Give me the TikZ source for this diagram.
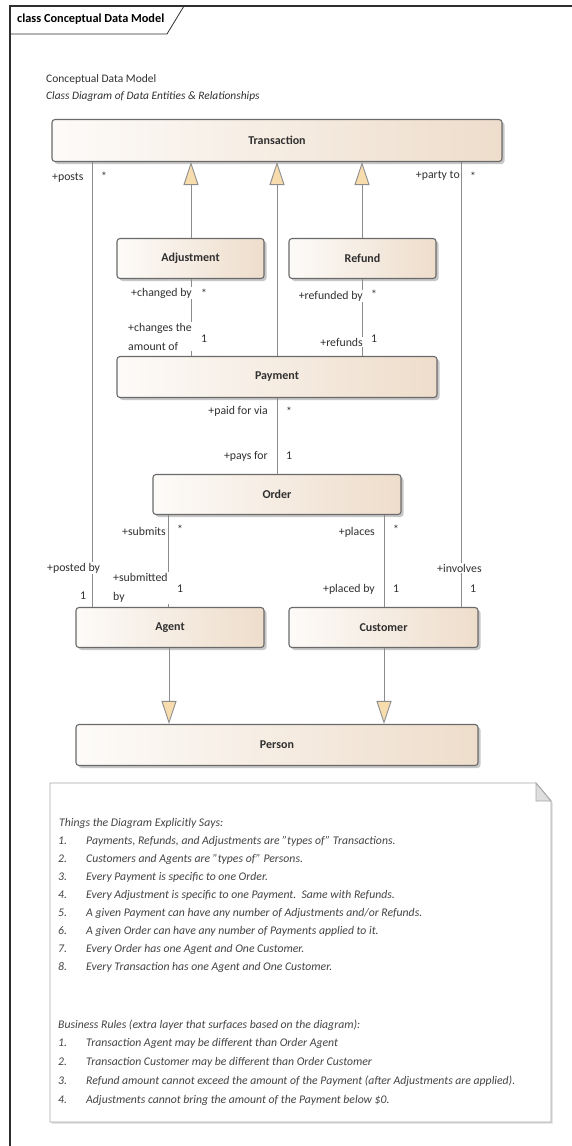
\documentclass[tikz,border=0pt]{standalone}
\usepackage{fontspec}
\setmainfont{Carlito}
\usetikzlibrary{shadows,arrows.meta}

\definecolor{frameline}{HTML}{2E2E2E}
\definecolor{boxline}{HTML}{6A6A6A}
\definecolor{linegray}{HTML}{8C8C8C}
\definecolor{boxleft}{HTML}{FDFBF9}
\definecolor{boxmid}{HTML}{FBF6F1}
\definecolor{boxright}{HTML}{EEDDCB}
\definecolor{tri}{HTML}{F7DCAE}
\definecolor{txt}{HTML}{303030}
\definecolor{notetxt}{HTML}{444444}
\definecolor{noteline}{HTML}{A8A8A8}
\definecolor{notefold}{HTML}{DEDEDE}

% straight double quote, kept out of the TeX ligature mapping
\newcommand{\sq}{\symbol{34}}

\begin{document}
\begin{tikzpicture}[x=1pt,y=-1pt,
  cls/.style={draw=boxline, line width=1.1pt, rounded corners=3pt,
    left color=boxleft, middle color=boxmid, right color=boxright,
    drop shadow={shadow xshift=2.5pt, shadow yshift=-2.5pt, opacity=0.22, fill=black},
    font=\bfseries\fontsize{12}{14}\selectfont, text=txt,
    minimum height=40pt, inner sep=0pt},
  assoc/.style={draw=linegray, line width=0.9pt},
  gen/.style={draw=linegray, line width=0.9pt,
    -{Triangle[width=15pt,length=23pt,fill=tri]}},
  role/.style={font=\fontsize{11.8}{19}\selectfont, text=txt, fill=white, inner sep=1pt},
  mult/.style={font=\fontsize{11.8}{14}\selectfont, text=txt, inner sep=0pt},
  notetext/.style={font=\itshape\fontsize{11.7}{13}\selectfont, text=notetxt, anchor=west, inner sep=0pt}
]
\useasboundingbox (0,0) rectangle (572,1146);

% diagram frame and its name tab
\draw[frameline, line width=1.2pt] (10,1146) -- (10,6) -- (572,6);
\draw[frameline, line width=0.8pt] (10,34) -- (167,34) -- (184,6);
\node[anchor=west, inner sep=0pt, font=\bfseries\fontsize{12.3}{14}\selectfont, text=black] (tab) at (17,19) {class Conceptual Data Model};

% title block
\node[anchor=west, inner sep=0pt, font=\fontsize{11.5}{14}\selectfont, text=txt] (title) at (46,79) {Conceptual Data Model};
\node[anchor=west, inner sep=0pt, font=\itshape\fontsize{11.4}{14}\selectfont, text=txt] (subtitle) at (46,97) {Class Diagram of Data Entities \& Relationships};

% classes
\node[cls, minimum width=450pt, minimum height=42pt] (trans) at (277,140.5) {Transaction};
\node[cls, minimum width=147pt] (adj) at (190.5,258.5) {Adjustment};
\node[cls, minimum width=147pt] (refund) at (362.5,258.5) {Refund};
\node[cls, minimum width=320pt, minimum height=41pt] (pay) at (277,377) {Payment};
\node[cls, minimum width=248pt] (order) at (277,494.5) {Order};
\node[cls, minimum width=188pt] (agent) at (170,627.5) {Agent};
\node[cls, minimum width=189pt] (cust) at (383.5,627.5) {Customer};
\node[cls, minimum width=402pt, minimum height=41pt] (person) at (277,745) {Person};

% associations
\draw[assoc] (92,0 |- trans.south) -- (92,0 |- agent.north);
\draw[assoc] (461,0 |- trans.south) -- (461,0 |- cust.north);
\draw[assoc] (191,0 |- adj.south) -- (191,0 |- pay.north);
\draw[assoc] (362,0 |- refund.south) -- (362,0 |- pay.north);
\draw[assoc] (pay.south) -- (order.north);
\draw[assoc] (168,0 |- order.south) -- (168,0 |- agent.north);
\draw[assoc] (384,0 |- order.south) -- (384,0 |- cust.north);

% generalizations
\draw[gen] (191,0 |- adj.north) -- (191,0 |- trans.south);
\draw[gen] (pay.north) -- (trans.south);
\draw[gen] (362,0 |- refund.north) -- (362,0 |- trans.south);
\draw[gen] (169,0 |- agent.south) -- (169,0 |- person.north);
\draw[gen] (384,0 |- cust.south) -- (384,0 |- person.north);

% association end labels
\node[role, anchor=west] (r1) at (51,178) {+posts};
\node[mult] (m1) at (104,176) {*};
\node[role, anchor=east] (r2) at (461,176) {+party to};
\node[mult] (m2) at (473,176) {*};

\node[role, anchor=east] (r3) at (193,293) {+changed by};
\node[mult] (m3) at (204,293) {*};
\node[role, anchor=east, align=left] (r4) at (193,336.5) {+changes the\\amount of};
\node[mult] (m4) at (204,339) {1};

\node[role, anchor=east] (r5) at (364,296) {+refunded by};
\node[mult] (m5) at (374,294) {*};
\node[role, anchor=east] (r6) at (364,342) {+refunds};
\node[mult] (m6) at (374,339) {1};

\node[role, anchor=east] (r7) at (269,411) {+paid for via};
\node[mult] (m7) at (289,411) {*};
\node[role, anchor=east] (r8) at (269,456) {+pays for};
\node[mult] (m8) at (289,456) {1};

\node[role, anchor=east] (r9) at (167,531) {+submits};
\node[mult] (m9) at (180,529) {*};
\node[role, anchor=west, align=left] (r10) at (112,588) {+submitted\\by};
\node[mult] (m10) at (180,589) {1};

\node[role, anchor=east] (r11) at (376,532) {+places};
\node[mult] (m11) at (396,529) {*};
\node[role, anchor=east] (r12) at (376,589) {+placed by};
\node[mult] (m12) at (396,589) {1};

\node[role, anchor=west] (r13) at (46,568) {+posted by};
\node[mult] (m13) at (83,596) {1};
\node[role, anchor=west] (r14) at (436,568) {+involves};
\node[mult] (m14) at (473,589) {1};

% note with folded corner
\draw[noteline, line width=0.9pt, fill=white,
      drop shadow={shadow xshift=1.5pt, shadow yshift=-1.5pt, opacity=0.15, fill=black}]
  (50,783) -- (536,783) -- (551,801) -- (551,1122) -- (50,1122) -- cycle;
\draw[noteline, line width=0.9pt, fill=notefold] (536,783) -- (536,801) -- (551,801) -- cycle;

\node[notetext] (n0) at (59,823) {Things the Diagram Explicitly Says:};
\foreach \i/\t in {
  1/{Payments, Refunds, and Adjustments are \sq types of\sq\ Transactions.},
  2/{Customers and Agents are \sq types of\sq\ Persons.},
  3/{Every Payment is specific to one Order.},
  4/{Every Adjustment is specific to one Payment.\ \ Same with Refunds.},
  5/{A given Payment can have any number of Adjustments and/or Refunds.},
  6/{A given Order can have any number of Payments applied to it.},
  7/{Every Order has one Agent and One Customer.},
  8/{Every Transaction has one Agent and One Customer.}} {
  \node[notetext] (a\i) at (58,{841+18*(\i-1)}) {\i.};
  \node[notetext] (b\i) at (86,{841+18*(\i-1)}) {\t};
}

\node[notetext] (n1) at (58,1025) {Business Rules (extra layer that surfaces based on the diagram):};
\foreach \i/\t in {
  1/{Transaction Agent may be different than Order Agent},
  2/{Transaction Customer may be different than Order Customer},
  3/{Refund amount cannot exceed the amount of the Payment (after Adjustments are applied).},
  4/{Adjustments cannot bring the amount of the Payment below \$0.}} {
  \node[notetext] (c\i) at (58,{1043+19*(\i-1)}) {\i.};
  \node[notetext] (d\i) at (86,{1043+19*(\i-1)}) {\t};
}
\end{tikzpicture}
\end{document}
